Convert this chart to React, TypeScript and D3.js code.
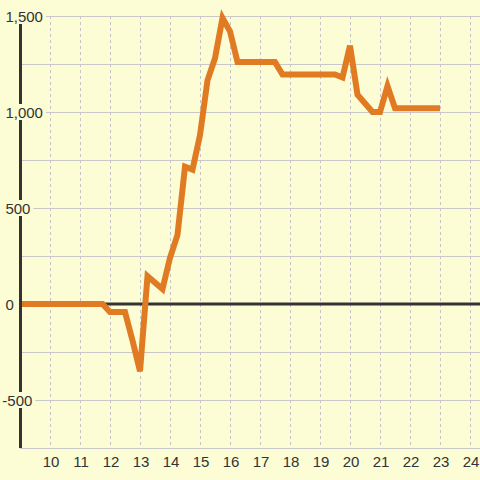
import React from "react";
import * as d3 from "d3";

const xValues = [9, 11.75, 12, 12.5, 12.75, 13, 13.25, 13.75, 14, 14.25, 14.5, 14.75, 15, 15.25, 15.5, 15.75, 16, 16.25, 17.5, 17.75, 19.5, 19.75, 20, 20.25, 20.75, 21, 21.25, 21.5, 23];
const yValues = [0, 0, -42, -42, -190, -350, 145, 78, 240, 360, 715, 700, 880, 1165, 1280, 1490, 1420, 1260, 1260, 1195, 1195, 1180, 1345, 1090, 1000, 1000, 1135, 1020, 1020];
const xTicks = [10, 11, 12, 13, 14, 15, 16, 17, 18, 19, 20, 21, 22, 23, 24];
const yGrid = [1500, 1250, 1000, 750, 500, 250, 0, -250, -500, -750];
const yLabels = [1500, 1000, 500, 0, -500];

const W = 480, H = 480;
const BG = "#fcfcd5";
const FONT = "'Liberation Sans', Arial, sans-serif";

export default function App() {
  const x = d3.scaleLinear().domain([9, 24]).range([20, 470]);
  const y = d3.scaleLinear().domain([-750, 1500]).range([448, 16]);
  const line = d3.line<number>().x((_, i) => x(xValues[i])).y((d) => y(d));
  const fmt = d3.formatLocale({ decimal: ".", thousands: ",", grouping: [3], currency: ["", ""], minus: "-" }).format(",");
  const approxW = (s: string) => s.length * 8.34 - (s.includes(",") ? 4.17 : 0) - (s.startsWith("-") ? 3.3 : 0);
  return (
    <svg width={W} height={H} style={{ position: "absolute", left: 0, top: 0 }}>
      <rect x={0} y={0} width={W} height={H} fill={BG} />
      <defs>
        <clipPath id="plot">
          <rect x={20} y={0} width={460} height={448} />
        </clipPath>
      </defs>
      {xTicks.map((t) => (
        <line key={"vx" + t} x1={x(t) + 0.5} x2={x(t) + 0.5} y1={16} y2={448} stroke="#c4c4c4" strokeWidth={1} strokeDasharray="3,3" />
      ))}
      {yGrid.map((t) => (
        <line key={"gy" + t} x1={20} x2={480} y1={y(t) + 0.5} y2={y(t) + 0.5} stroke="#c8c8c8" strokeWidth={1} />
      ))}
      <line x1={20} x2={480} y1={y(0)} y2={y(0)} stroke="#333" strokeWidth={3} />
      <path d={line(yValues) || ""} fill="none" stroke="#e07b24" strokeWidth={6} strokeLinejoin="miter" strokeLinecap="butt" clipPath="url(#plot)" />
      <line x1={20.5} x2={20.5} y1={16} y2={448} stroke="#333" strokeWidth={3} />
      {yLabels.map((t) => {
        const s = fmt(t);
        const tx = t < 0 ? 2.3 : 5.4;
        const w = approxW(s);
        return (
          <g key={"yl" + t}>
            <rect x={tx - 1} y={y(t) - 8} width={w + 4} height={16} fill={BG} />
            <text x={tx} y={y(t) + 5.5} fontSize={15} fontFamily={FONT} fill="#333">{s}</text>
          </g>
        );
      })}
      {xTicks.map((t) => (
        <text key={"xl" + t} x={x(t) + 1} y={467} fontSize={15} fontFamily={FONT} fill="#333" textAnchor="middle">{t}</text>
      ))}
    </svg>
  );
}
